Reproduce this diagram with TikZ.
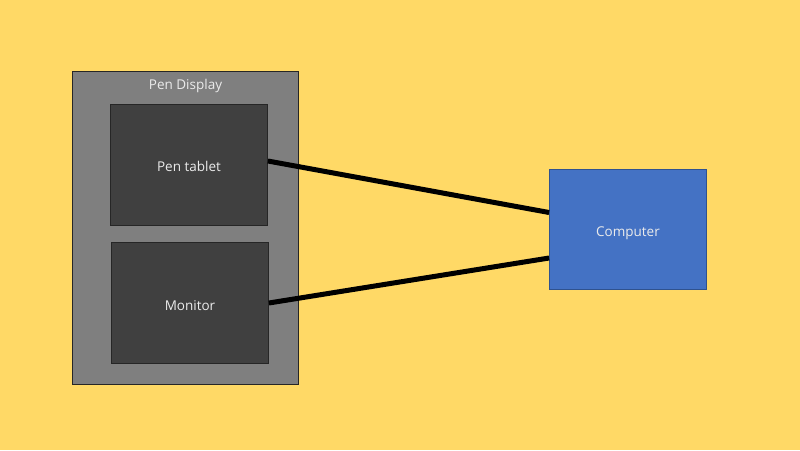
\documentclass[tikz,border=0pt]{standalone}
\usepackage{fontspec}
\setmainfont{Open Sans}
\definecolor{bg}{HTML}{FFD966}
\definecolor{outerg}{HTML}{7F7F7F}
\definecolor{innerg}{HTML}{404040}
\definecolor{compblue}{HTML}{4472C4}
\definecolor{compedge}{HTML}{2F528F}
\begin{document}
\begin{tikzpicture}[x=1pt,y=-1pt,
  boxtext/.style={text=white!92!black,font=\fontsize{13.5}{15}\selectfont,text height=14pt,text depth=0pt},
  darkbox/.style={draw=black!85,line width=0.8pt,fill=innerg,minimum width=157pt,minimum height=121pt,inner sep=0pt,boxtext},
  cable/.style={line width=5pt,black}]
\fill[bg] (0,0) rectangle (800,450);
\useasboundingbox (0,0) rectangle (800,450);
\node[draw=black!85,line width=0.8pt,fill=outerg,minimum width=226pt,minimum height=313pt,inner sep=0pt] (pd) at (185.5,227.5) {};
\node[text=white!92!black,font=\fontsize{13.5}{15}\selectfont,anchor=base,inner sep=0pt] (pdl) at (185.5,89.3) {Pen Display};
\node[darkbox] (pt) at (189,164.5) {Pen tablet};
\node[darkbox] (mon) at (190,303) {Monitor};
\node[draw=compedge,line width=0.8pt,fill=compblue,minimum width=157pt,minimum height=120pt,inner sep=0pt,boxtext] (comp) at (628,229.5) {Computer};
\draw[cable] (pt.east |- 0,161) -- (comp.west |- 0,212.5);
\draw[cable] (mon.east |- 0,303) -- (comp.west |- 0,258);
\end{tikzpicture}
\end{document}
